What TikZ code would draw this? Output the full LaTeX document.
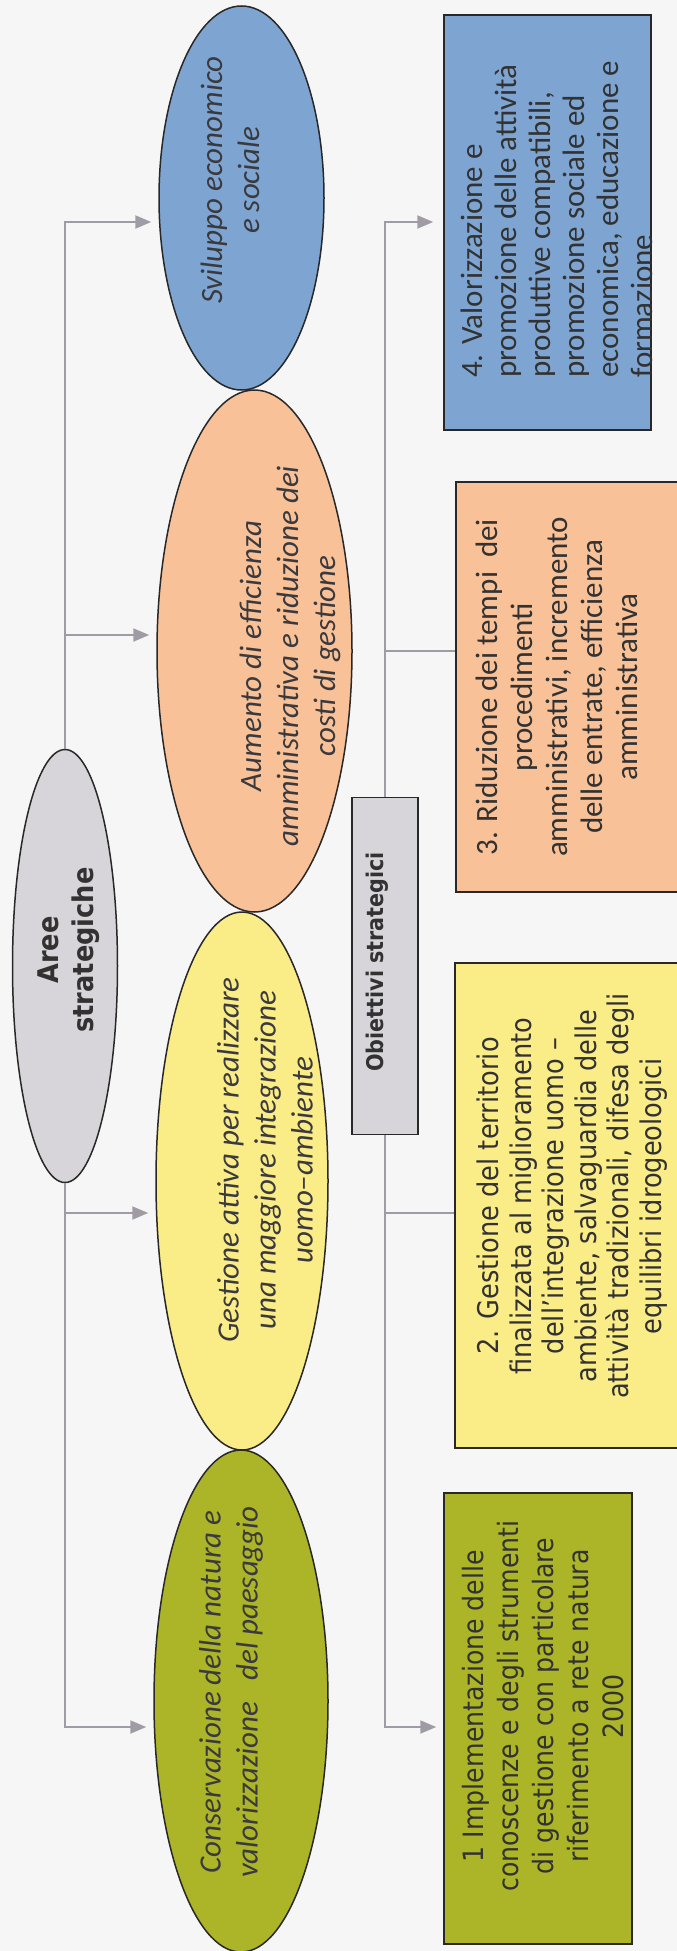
\documentclass[tikz,border=0pt]{standalone}
\usepackage{fontspec}
\newfontfamily\calfont{Carlito}
\newfontfamily\tahfont[FakeStretch=0.9]{DejaVu Sans}
\usetikzlibrary{shapes.geometric,arrows.meta}
\definecolor{bg}{RGB}{246,246,246}
\definecolor{cblue}{RGB}{126,165,210}
\definecolor{corange}{RGB}{248,193,152}
\definecolor{cyellow}{RGB}{250,236,135}
\definecolor{colive}{RGB}{172,180,40}
\definecolor{cgray}{RGB}{215,213,217}
\definecolor{edge}{RGB}{40,40,40}
\definecolor{lgray}{RGB}{160,156,166}
\definecolor{etxt}{RGB}{58,58,62}
\definecolor{btxt}{RGB}{50,50,50}
\tikzset{
  ell/.style={ellipse, draw=edge, line width=1.5pt, inner sep=0pt, rotate=90},
  boxx/.style={rectangle, draw=edge, line width=1.5pt, inner sep=0pt, rotate=90},
  etext/.style={rotate=90, align=center, inner sep=0pt, text=etxt,
    font=\calfont\itshape\fontsize{31}{37}\selectfont},
  btext/.style={rotate=90, align=center, inner sep=0pt, text=btxt},
  conn/.style={draw=lgray, line width=2pt},
  arr/.style={conn, -{Triangle[length=16pt,width=13pt]}},
}
\begin{document}
\begin{tikzpicture}[x=1pt,y=-1pt]
\useasboundingbox (0,0) rectangle (677,1951);
\clip (0,0) rectangle (677,1951);
\fill[bg] (0,0) rectangle (677,1951);

% shapes
\node[ell, fill=cblue, minimum width=384pt, minimum height=165pt] (blue) at (241.5,198) {};
\node[ell, fill=corange, minimum width=522pt, minimum height=195pt] (orange) at (254.5,651) {};
\node[ell, fill=cyellow, minimum width=538pt, minimum height=172pt] (yellow) at (242,1181) {};
\node[ell, fill=colive, minimum width=502pt, minimum height=174pt] (olive) at (241,1701) {};
\node[ell, fill=cgray, minimum width=433pt, minimum height=105pt] (aree) at (65,966) {};

\node[boxx, fill=cblue, minimum width=415pt, minimum height=207pt] (box4) at (547.5,222.5) {};
\node[boxx, fill=corange, minimum width=410pt, minimum height=244pt] (box3) at (578,687) {};
\node[boxx, fill=cyellow, minimum width=485pt, minimum height=245pt] (box2) at (577.5,1205.5) {};
\node[boxx, fill=colive, minimum width=451pt, minimum height=188pt] (box1) at (538,1718.5) {};
\node[boxx, fill=cgray, minimum width=337pt, minimum height=66pt] (obj) at (385,966) {};

% connectors
\coordinate (L1) at (65,222);
\coordinate (L2) at (65,635);
\coordinate (L3) at (65,1213);
\coordinate (L4) at (65,1727);
\coordinate (R1) at (385,222);
\coordinate (R2) at (385,651);
\coordinate (R3) at (385,1213);
\coordinate (R4) at (385,1727);

\draw[arr, shorten >=7pt] (aree.east) -- (L1) -- (L1 -| blue.north);
\draw[arr, shorten >=7pt] (L2) -- (L2 -| orange.north);
\draw[arr, shorten >=7pt] (L3) -- (L3 -| yellow.north);
\draw[arr, shorten >=7pt] (aree.west) -- (L4) -- (L4 -| olive.north);

\draw[arr, shorten >=10pt] (obj.east) -- (R1) -- (R1 -| box4.north);
\draw[conn] (R2) -- (R2 -| box3.north);
\draw[conn] (R3) -- (R3 -| box2.north);
\draw[arr, shorten >=7pt] (obj.west) -- (R4) -- (R4 -| box1.north);

% texts
\node[etext] (tblue) at (230,180) {Sviluppo economico\\e sociale};
\node[etext] (torange) at (290,656) {Aumento di efficienza\\amministrativa e riduzione dei\\costi di gestione};
\node[etext] (tyellow) at (265,1160) {Gestione attiva per realizzare\\una maggiore integrazione\\uomo–ambiente};
\node[etext] (tolive) at (231,1692) {Conservazione della natura e\\valorizzazione \ \ del paesaggio};

\node[btext, font=\tahfont\bfseries\fontsize{28.5}{35}\selectfont] (taree) at (69,950) {Aree\\strategiche};
\node[btext, font=\tahfont\bfseries\fontsize{23}{28}\selectfont] (tobj) at (377,962) {Obiettivi strategici};

\node[btext, font=\tahfont\fontsize{28}{35}\selectfont] (t1) at (543,1706) {1 Implementazione delle\\conoscenze e degli strumenti\\di gestione con particolare\\riferimento a rete natura\\2000};
\node[btext, font=\tahfont\fontsize{28.5}{32.5}\selectfont] (t2) at (572,1196) {2. Gestione del territorio\\finalizzata al miglioramento\\dell’integrazione uomo –\\ambiente, salvaguardia delle\\attività tradizionali, difesa degli\\equilibri idrogeologici};
\node[btext, font=\calfont\fontsize{31}{35}\selectfont] (t3) at (557,687) {3. Riduzione dei tempi \ dei\\procedimenti\\amministrativi, incremento\\delle entrate, efficienza\\amministrativa};
\node[btext, align=left, anchor=west, font=\calfont\fontsize{31}{34}\selectfont] (t4) at (557,378) {4. Valorizzazione e\\promozione delle attività\\produttive compatibili,\\promozione sociale ed\\economica, educazione e\\formazione};
\end{tikzpicture}
\end{document}
